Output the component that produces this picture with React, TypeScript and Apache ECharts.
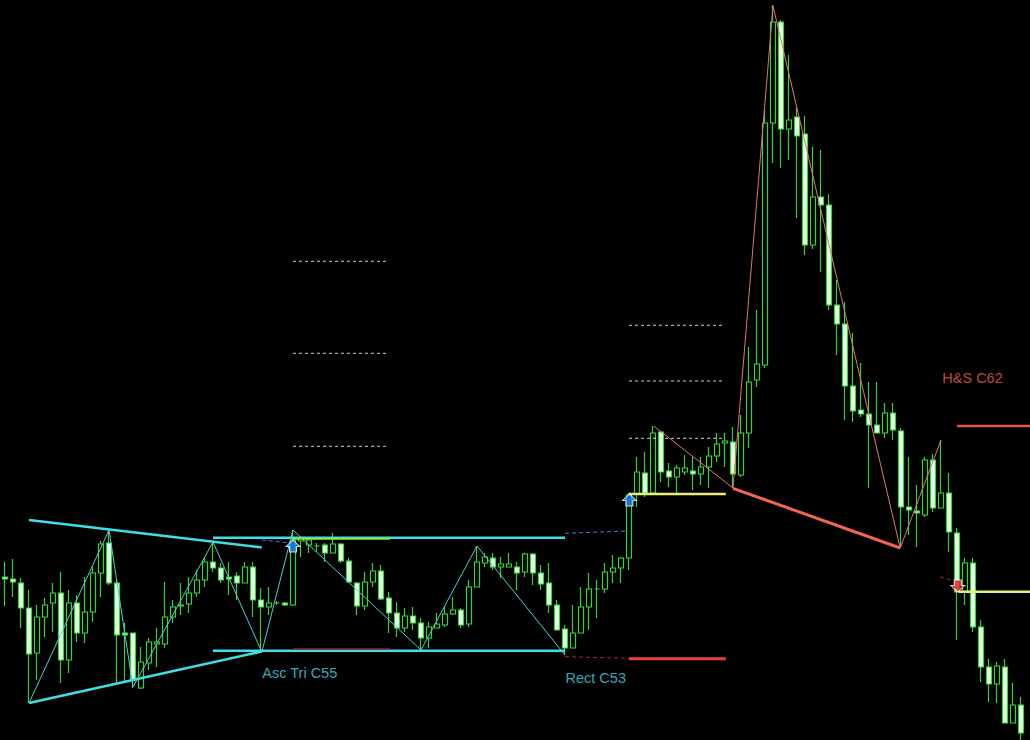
import React, { useEffect, useRef } from "react";
import * as echarts from "echarts";

// Candle OHLC values (price units), index 0..127
const opens = [
  163, 161, 157, 132, 87, 123, 137, 147, 80, 137,
  107, 128, 167, 197, 157, 107, 107, 52, 77, 96,
  96, 123, 134, 136, 147, 160, 178, 172, 163, 164,
  157, 173, 140, 133, 137, 137, 135, 199, 195, 194,
  195, 187, 196, 179, 157, 134, 158, 169, 142, 127,
  112, 124, 117, 102, 112, 115, 126, 130, 116, 153,
  177, 182, 173, 173, 173, 168, 186, 167, 157, 135,
  111, 92, 107, 133, 151, 151, 168, 172, 182, 246,
  267, 247, 308, 269, 263, 268, 269, 266, 273, 284,
  297, 298, 265, 307, 360, 375, 617, 718, 611, 623,
  606, 495, 543, 535, 435, 416, 354, 330, 326, 315,
  307, 327, 309, 233, 229, 225, 280, 232, 247, 207,
  148, 177, 113, 73, 56, 73, 17, 35,
];
const closes = [
  161, 158, 132, 86, 123, 135, 147, 80, 137, 107,
  128, 167, 196, 157, 105, 105, 60, 78, 98, 98,
  123, 133, 135, 147, 160, 178, 172, 160, 161, 157,
  173, 140, 133, 137, 137, 135, 200, 202, 200, 194,
  187, 196, 179, 158, 134, 158, 169, 141, 127, 112,
  124, 117, 102, 113, 116, 126, 130, 115, 153, 178,
  183, 173, 176, 176, 167, 186, 167, 156, 135, 110,
  92, 107, 133, 151, 151, 168, 172, 182, 245, 268,
  247, 307, 268, 263, 272, 272, 266, 273, 284, 296,
  299, 266, 307, 358, 376, 617, 718, 611, 620, 604,
  495, 543, 535, 435, 416, 354, 329, 326, 315, 307,
  327, 310, 233, 230, 227, 280, 232, 247, 208, 148,
  177, 113, 73, 56, 74, 17, 35, 7,
];
const lows = [
  134, 143, 112, 37, 60, 103, 108, 57, 67, 98,
  97, 118, 143, 155, 57, 58, 52, 51, 70, 73,
  92, 117, 125, 127, 143, 153, 168, 157, 145, 140,
  157, 123, 88, 125, 135, 134, 134, 183, 187, 188,
  178, 187, 177, 157, 125, 130, 153, 140, 107, 103,
  108, 110, 90, 92, 112, 113, 125, 112, 113, 153,
  173, 170, 162, 173, 150, 163, 155, 150, 127, 110,
  85, 92, 107, 110, 122, 147, 157, 157, 170, 233,
  243, 245, 258, 253, 245, 265, 250, 255, 252, 278,
  273, 252, 263, 292, 353, 372, 577, 572, 580, 522,
  485, 491, 468, 430, 385, 320, 318, 323, 252, 307,
  302, 300, 192, 205, 193, 223, 228, 232, 188, 100,
  135, 108, 58, 38, 37, 17, 17, 0,
];
const highs = [
  178, 181, 162, 150, 135, 142, 157, 168, 150, 145,
  163, 173, 199, 210, 160, 117, 107, 93, 102, 112,
  158, 140, 157, 163, 170, 183, 198, 177, 178, 168,
  178, 178, 152, 153, 139, 138, 210, 204, 202, 197,
  197, 207, 197, 182, 158, 168, 177, 175, 148, 138,
  132, 133, 122, 118, 127, 133, 143, 132, 160, 194,
  187, 187, 183, 187, 178, 187, 187, 175, 177, 140,
  115, 135, 153, 167, 160, 177, 185, 183, 247, 283,
  288, 314, 308, 277, 275, 285, 283, 283, 293, 307,
  307, 313, 325, 393, 430, 630, 735, 720, 685, 632,
  624, 593, 590, 546, 460, 438, 407, 377, 358, 358,
  337, 337, 312, 283, 255, 283, 286, 300, 267, 212,
  182, 182, 120, 81, 78, 81, 57, 43,
];

// Pattern overlays: [bar index, price]
const triUpper = [[3, 220], [32.1, 192.5]];
const triLower = [[3, 37], [32.1, 88.5]];
const rectTop = [[26, 202.3], [70, 202.3]];
const rectBottom = [[26, 89.3], [70, 89.3]];
const rectTopGreen = [[36, 201.3], [48.1, 201.3]];
const rectBottomRed = [[36, 91], [48.1, 91]];
const zigzagCyan = [
  [3, 37], [13, 210], [16, 53], [26, 198], [32.1, 88], [36, 210],
  [52, 90], [59, 194], [70, 85],
];
const blueDash1 = [[32.1, 200], [35.6, 197]];
const blueDash2 = [[70, 206.7], [77.9, 209]];
const redDash1 = [[70, 83.3], [78, 81.7]];
const redDash2 = [[116.9, 163.3], [118.3, 160]];
const rectTarget = [[78, 81.3], [90.1, 81.3]];
const breakoutLevel1 = [[78, 246], [90.1, 246]];
const breakoutLevel2 = [[119.2, 148.3], [128.2, 148.3]];
const hsTarget = [[119, 314], [128.2, 314]];
const grayLevels1 = [478.7, 386.7, 293.7];
const grayRange1 = [36, 47.7];
const grayLevels2 = [414.7, 359, 301.7];
const grayRange2 = [78, 89.8];
const zigzagHS = [[81.1, 314], [91, 252], [96, 734], [111.9, 192], [117, 300]];
const neckline = [[91, 251.7], [111.9, 192]];
const upArrows = [[36, 194], [78.05, 240]];
const downArrows = [[119.1, 154]];
const labels = [
  { name: "Asc Tri C55", pos: [32.1, 67], color: "#44d6e6" },
  { name: "Rect C53", pos: [70, 62.5], color: "#44d6e6" },
  { name: "H&S C62", pos: [117.1, 362.5], color: "#e8604a" },
];

const seg = (data: number[][], color: string, width: number, type: any = "solid", z = 3) => ({
  type: "line",
  data,
  symbol: "none",
  silent: true,
  z,
  lineStyle: { color, width, type },
});

export default function App() {
  const ref = useRef<HTMLDivElement>(null);
  useEffect(() => {
    document.body.style.margin = "0";
    document.body.style.background = "#000";
    const chart = echarts.init(ref.current!, null, { renderer: "svg" });
    const candles = opens.map((o, i) => [i, o, closes[i], lows[i], highs[i]]);
    const series: any[] = [
      {
        type: "candlestick",
        data: candles,
        encode: { x: 0, y: [1, 2, 3, 4] },
        barWidth: 5,
        z: 2,
        itemStyle: {
          color: "#000000",
          color0: "#eaffea",
          borderColor: "#3ad23a",
          borderColor0: "#3ad23a",
          borderWidth: 1.2,
        },
      },
      seg(triUpper, "#3de0e6", 2.5),
      seg(triLower, "#3de0e6", 2.5),
      seg(rectTop, "#3de0e6", 2.5),
      seg(rectBottom, "#3de0e6", 2.5),
      seg(rectTopGreen, "#8ee840", 2, "solid", 4),
      seg(rectBottomRed, "#a02020", 1.5, "solid", 4),
      seg(zigzagCyan, "#48d0d0", 1),
      seg(blueDash1, "#4a78d8", 1, [4, 3]),
      seg(blueDash2, "#4a78d8", 1, [4, 3]),
      seg(redDash1, "#b02828", 1, [4, 3]),
      seg(redDash2, "#b02828", 1, [4, 3]),
      seg(rectTarget, "#e8442c", 3),
      seg(breakoutLevel1, "#ecec78", 2.5),
      seg(breakoutLevel2, "#ecec78", 2.5),
      seg(hsTarget, "#e05a40", 2.5),
      ...grayLevels1.map((v) => seg([[grayRange1[0], v], [grayRange1[1], v]], "#d0d0d0", 1, [3, 3])),
      ...grayLevels2.map((v) => seg([[grayRange2[0], v], [grayRange2[1], v]], "#d0d0d0", 1, [3, 3])),
      seg(zigzagHS, "#e07868", 1),
      seg(neckline, "#f06450", 3),
      {
        type: "scatter",
        data: upArrows,
        symbol: "path://M6,0 L12,6 L9,6 L9,11 L3,11 L3,6 L0,6 Z",
        symbolSize: [14, 12],
        z: 5,
        silent: true,
        itemStyle: { color: "#1e90ff", borderColor: "#ffffff", borderWidth: 1 },
      },
      {
        type: "scatter",
        data: downArrows,
        symbol: "path://M3,0 L9,0 L9,5 L12,5 L6,11 L0,5 L3,5 Z",
        symbolSize: [14, 12],
        z: 5,
        silent: true,
        itemStyle: { color: "#ee1010", borderColor: "#ffffff", borderWidth: 1 },
      },
      ...labels.map((l) => ({
        type: "scatter",
        data: [{ value: l.pos, name: l.name }],
        symbolSize: 1,
        silent: true,
        z: 6,
        itemStyle: { color: "transparent" },
        label: {
          show: true,
          position: "right",
          distance: 0,
          formatter: l.name,
          color: l.color,
          fontSize: 14.5,
          fontFamily: "'Liberation Sans', Arial, sans-serif",
        },
      })),
    ];
    chart.setOption({
      animation: false,
      backgroundColor: "#000000",
      grid: { left: 0, right: 0, top: 0, bottom: 0, containLabel: false },
      xAxis: { type: "value", min: -0.625, max: 128.125, show: false },
      yAxis: { type: "value", min: 0, max: 740, show: false },
      series,
    });
    return () => chart.dispose();
  }, []);
  return (
    <div
      ref={ref}
      style={{ position: "absolute", left: 0, top: 0, width: 1030, height: 740, background: "#000" }}
    />
  );
}
